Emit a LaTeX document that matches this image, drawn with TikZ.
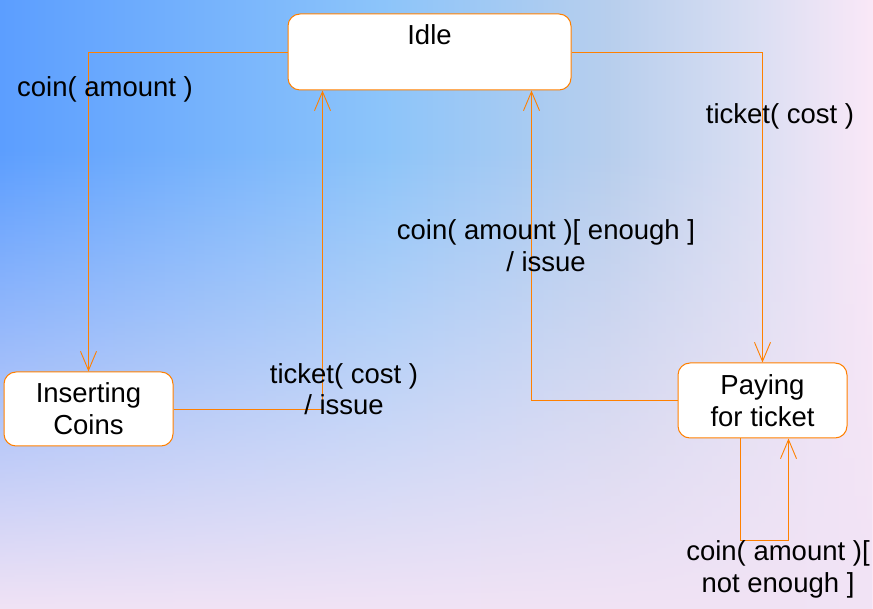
\documentclass[tikz,border=0pt]{standalone}
\usepackage{fontspec}
\setmainfont{Liberation Sans}
\usetikzlibrary{arrows.meta,fadings}

\definecolor{edgeorange}{RGB}{255,128,0}
\definecolor{bgpink}{RGB}{241,227,245}

\pgfdeclarehorizontalshading{bgshade}{100bp}{%
  rgb(0bp)=(0.36,0.62,1.0);
  rgb(25bp)=(0.36,0.62,1.0);
  rgb(47bp)=(0.55,0.77,0.98);
  rgb(60bp)=(0.72,0.81,0.93);
  rgb(68bp)=(0.85,0.87,0.95);
  rgb(75bp)=(0.98,0.91,0.97);
  rgb(100bp)=(0.98,0.91,0.97)}

\tikzset{
  statebox/.style={draw=edgeorange, fill=white, line width=1pt,
    rounded corners=12pt, align=center, inner sep=0pt},
  trans/.style={draw=edgeorange, line width=0.9pt,
    -{Straight Barb[length=19pt,width=16pt]}},
  lbl/.style={align=center, inner sep=0pt},
}

\begin{document}
\begin{tikzpicture}[x=1pt, y=-1pt, font=\fontsize{27.5}{32}\selectfont]
\useasboundingbox (0,0) rectangle (873,609);
% background
\shade[shading=bgshade] (0,0) rectangle (873,609);
\fill[bgpink, path fading=north] (0,150) rectangle (873,609);

% states
\node[statebox, minimum width=283pt, minimum height=76pt] (idle) at (429.5,52) {};
\node[anchor=base] (idletxt) at (429.5,45) {Idle};
\node[statebox, minimum width=169pt, minimum height=74pt] (coins) at (88.5,409) {Inserting\\Coins};
\node[statebox, minimum width=169pt, minimum height=75pt] (pay) at (762.5,400.5) {Paying\\for ticket};

% transitions
\draw[trans] (idle.west) -| (coins.north);
\draw[trans] (coins.east) -| ([xshift=35pt]idle.south west);
\draw[trans] (idle.east) -| (pay.north);
\draw[trans] (pay.west) -| ([xshift=-40pt]idle.south east);
\draw[trans] ([xshift=-22pt]pay.south) -- ++(0,102) -| ([xshift=26pt]pay.south);

% labels (base = last line)
\node[lbl, anchor=base] (coinlbl) at (105,97) {coin( amount )};
\node[lbl, anchor=base] (ticketlbl) at (780,124) {ticket( cost )};
\node[lbl, anchor=base] (issuelbl) at (344,415) {ticket( cost )\\/ issue};
\node[lbl, anchor=base] (enoughlbl) at (546,272) {coin( amount )[ enough ]\\/ issue};
\node[lbl, anchor=base] (notenoughlbl) at (778,592) {coin( amount )[\\not enough ]};
\end{tikzpicture}
\end{document}
